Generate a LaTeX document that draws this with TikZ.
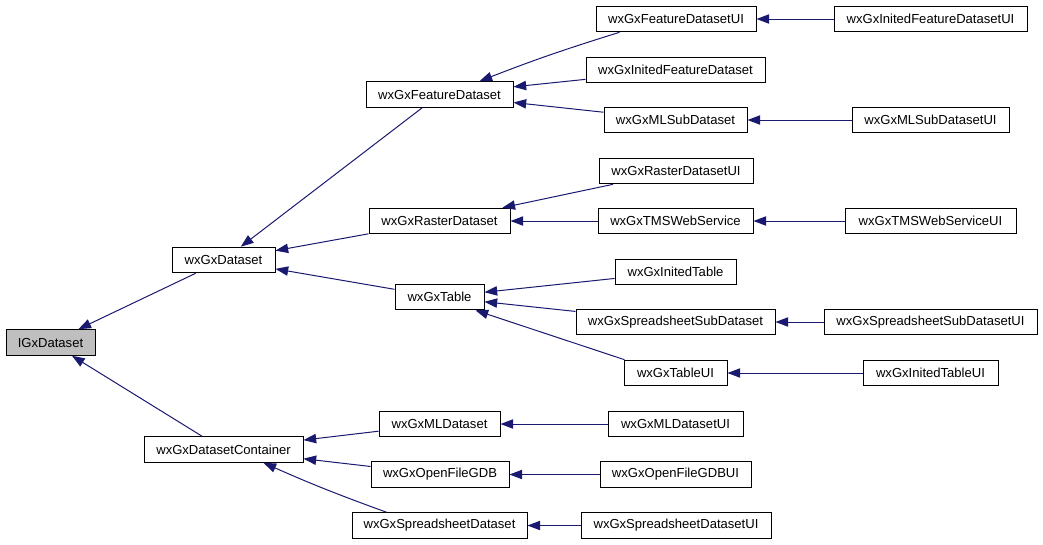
\documentclass[tikz,border=0pt]{standalone}
\usepackage{fontspec}
\setmainfont{Liberation Sans}
\usetikzlibrary{arrows.meta,calc}
\definecolor{edgeblue}{RGB}{25,25,112}
\definecolor{basegray}{RGB}{191,191,191}
\tikzset{
  box/.style={draw=black, line width=0.75pt, fill=white, inner sep=0pt, minimum height=19.2pt,
    font=\fontsize{9.8pt}{12pt}\selectfont},
  basebox/.style={box, fill=basegray},
  edge/.style={draw=edgeblue, line width=0.75pt, -{Triangle[length=9.5pt,width=7pt]}},
}
\begin{document}
\begin{tikzpicture}[x=0.75pt,y=-0.75pt]
\useasboundingbox (0,0) rectangle (1043,544);
% column 1
\node[basebox, minimum width=89*0.75pt] (igx) at (50.5,342.5) {IGxDataset};
% column 2
\node[box, minimum width=103*0.75pt] (ds) at (223.5,260) {wxGxDataset};
\node[box, minimum width=159*0.75pt] (dsc) at (223.5,449.5) {wxGxDatasetContainer};
% column 3
\node[box, minimum width=147*0.75pt] (fd) at (439.5,94.5) {wxGxFeatureDataset};
\node[box, minimum width=141*0.75pt] (rd) at (439.5,221) {wxGxRasterDataset};
\node[box, minimum width=89*0.75pt] (tb) at (439.5,297) {wxGxTable};
\node[box, minimum width=121*0.75pt] (mld) at (439.5,424) {wxGxMLDataset};
\node[box, minimum width=138*0.75pt] (ofg) at (440,474.5) {wxGxOpenFileGDB};
\node[box, minimum width=175*0.75pt] (ssd) at (439.5,525.5) {wxGxSpreadsheetDataset};
% column 4
\node[box, minimum width=160*0.75pt] (fdui) at (676,19) {wxGxFeatureDatasetUI};
\node[box, minimum width=179*0.75pt] (ifd) at (675.5,70) {wxGxInitedFeatureDataset};
\node[box, minimum width=143*0.75pt] (mlsd) at (675.5,120) {wxGxMLSubDataset};
\node[box, minimum width=154*0.75pt] (rdui) at (676,171) {wxGxRasterDatasetUI};
\node[box, minimum width=155*0.75pt] (tms) at (675.5,221) {wxGxTMSWebService};
\node[box, minimum width=121*0.75pt] (itb) at (675.5,272) {wxGxInitedTable};
\node[box, minimum width=199*0.75pt] (sssd) at (675.5,322) {wxGxSpreadsheetSubDataset};
\node[box, minimum width=103*0.75pt] (tbui) at (675.5,373) {wxGxTableUI};
\node[box, minimum width=135*0.75pt] (mldui) at (675.5,424) {wxGxMLDatasetUI};
\node[box, minimum width=151*0.75pt] (ofgui) at (675.5,474.5) {wxGxOpenFileGDBUI};
\node[box, minimum width=190*0.75pt] (ssdui) at (676,525.5) {wxGxSpreadsheetDatasetUI};
% column 5
\node[box, minimum width=193*0.75pt] (ifdui) at (930.5,19) {wxGxInitedFeatureDatasetUI};
\node[box, minimum width=157*0.75pt] (mlsdui) at (930.5,120) {wxGxMLSubDatasetUI};
\node[box, minimum width=171*0.75pt] (tmsui) at (930.5,221) {wxGxTMSWebServiceUI};
\node[box, minimum width=213*0.75pt] (sssdui) at (930.5,322) {wxGxSpreadsheetSubDatasetUI};
\node[box, minimum width=135*0.75pt] (itbui) at (930.5,373) {wxGxInitedTableUI};
% edges (child -> parent)
\draw[edge] (ds) -- (igx);
\draw[edge] (dsc) -- (igx);
\draw[edge] (fd) -- (ds);
\draw[edge] (rd) -- (ds);
\draw[edge] (tb) -- (ds);
\draw[edge] (mld) -- (dsc);
\draw[edge] (ofg) -- (dsc);
\draw[edge] ($(ssd.north west)+(35,0)$) to[bend left=2] ($(dsc.south east)+(-40,0)$);
\draw[edge] ($(fdui.south west)+(24,0)$) to[bend right=2] ($(fd.north west)+(114,0)$);
\draw[edge] (ifd) -- (fd);
\draw[edge] (mlsd) -- (fd);
\draw[edge] (rdui) -- (rd);
\draw[edge] (tms) -- (rd);
\draw[edge] (itb) -- (tb);
\draw[edge] (sssd) -- (tb);
\draw[edge] ($(tbui.north west)+(1,0)$) -- ($(tb.south east)+(-9,0)$);
\draw[edge] (mldui) -- (mld);
\draw[edge] (ofgui) -- (ofg);
\draw[edge] (ssdui) -- (ssd);
\draw[edge] (ifdui) -- (fdui);
\draw[edge] (mlsdui) -- (mlsd);
\draw[edge] (tmsui) -- (tms);
\draw[edge] (sssdui) -- (sssd);
\draw[edge] (itbui) -- (tbui);
\end{tikzpicture}
\end{document}
